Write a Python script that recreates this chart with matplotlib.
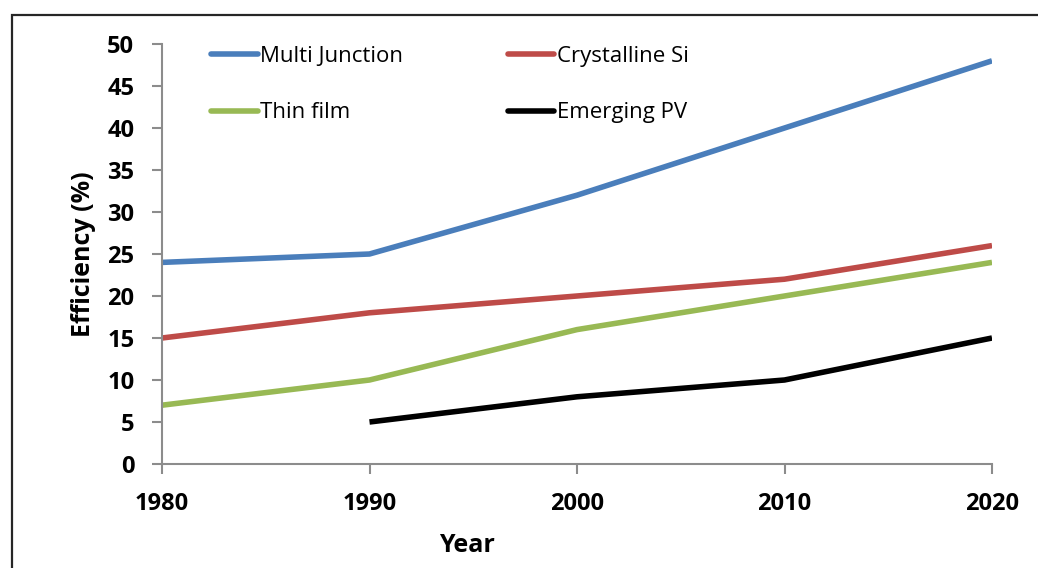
import matplotlib.pyplot as plt
from matplotlib.lines import Line2D
from matplotlib.patches import Rectangle

years = [1980, 1990, 2000, 2010, 2020]
multi_junction = [24, 25, 32, 40, 48]
crystalline_si = [15, 18, 20, 22, 26]
thin_film = [7, 10, 16, 20, 24]
emerging_years = [1990, 2000, 2010, 2020]
emerging_pv = [5, 8, 10, 15]

plt.rcParams['font.family'] = ['Open Sans', 'DejaVu Sans']

fig = plt.figure(figsize=(10.38, 5.68), dpi=100)
ax = fig.add_axes([162 / 1038, 1 - 464 / 568, 830 / 1038, 420 / 568])

# outer chart border (right and bottom edges run off the image)
fig.patches.append(Rectangle((12 / 1038, -0.05), 1.1, 1 - 15 / 568 + 0.05,
                             transform=fig.transFigure, fill=False,
                             edgecolor='#262626', linewidth=1.6))

lw = 4.0
ax.plot(years, multi_junction, color='#4A7EBB', lw=lw, solid_capstyle='butt')
ax.plot(years, crystalline_si, color='#BE4B48', lw=lw, solid_capstyle='butt')
ax.plot(years, thin_film, color='#98B954', lw=lw, solid_capstyle='butt')
ax.plot(emerging_years, emerging_pv, color='black', lw=lw, solid_capstyle='butt')

ax.set_xlim(1980, 2020)
ax.set_ylim(0, 50)
ax.set_xticks(years)
ax.set_yticks(range(0, 51, 5))

for s in ['top', 'right']:
    ax.spines[s].set_visible(False)
for s in ['left', 'bottom']:
    ax.spines[s].set_color('#8c8c8c')
    ax.spines[s].set_linewidth(1.5)
ax.tick_params(axis='both', direction='out', length=7, width=1.5,
               color='#8c8c8c', labelsize=17)
ax.tick_params(axis='x', pad=13)
ax.tick_params(axis='y', pad=13)
for lab in ax.get_xticklabels() + ax.get_yticklabels():
    lab.set_fontweight('bold')

ax.set_ylabel('Efficiency (%)', fontsize=18, fontweight='bold')
ax.yaxis.set_label_coords((96 - 162) / 830, (464 - 254) / 420)
fig.text(467 / 1038, 1 - 545 / 568, 'Year', fontsize=18, fontweight='bold',
         ha='center', va='center')

# legend, ordered column by column for a 2x2 layout
handles = [
    Line2D([], [], color='#4A7EBB', lw=lw, solid_capstyle='round'),
    Line2D([], [], color='#98B954', lw=lw, solid_capstyle='round'),
    Line2D([], [], color='#BE4B48', lw=lw, solid_capstyle='round'),
    Line2D([], [], color='black', lw=lw, solid_capstyle='round'),
]
labels = ['Multi Junction', 'Thin film', 'Crystalline Si', 'Emerging PV']
ax.legend(handles, labels, ncol=2, frameon=False, fontsize=16,
          loc='upper left', bbox_to_anchor=(40 / 830, 1.017),
          handlelength=2.1, handletextpad=0.12, columnspacing=4.7,
          labelspacing=1.6, borderaxespad=0)

fig.savefig('out.png', dpi=100)
